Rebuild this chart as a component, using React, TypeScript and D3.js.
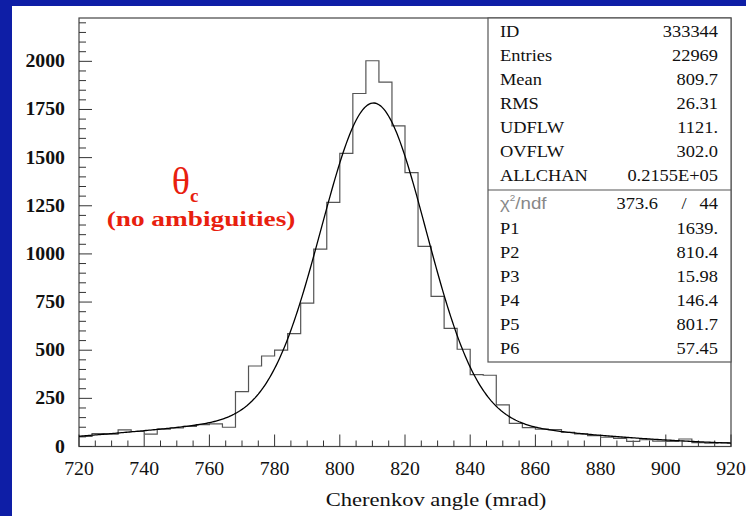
import React from 'react'
import * as d3 from 'd3'

// histogram contents, 50 bins of 4 mrad from 720 to 920
const binLow = 720
const binWidth = 4
const counts = [
  52, 67, 64, 86, 78, 64, 90, 96, 104, 114,
  118, 100, 285, 418, 470, 500, 586, 745, 1025, 1268,
  1522, 1833, 2003, 1892, 1665, 1422, 1039, 780, 613, 505,
  373, 370, 216, 120, 98, 90, 88, 74, 66, 56,
  48, 42, 27, 35, 28, 27, 39, 20, 18, 20
]

// fit parameters (two gaussians) as printed in the stats box
const fitParams = [1639, 810.4, 15.98, 146.4, 801.7, 57.45]

const xTicks = [720, 740, 760, 780, 800, 820, 840, 860, 880, 900, 920]
const yTicks = [0, 250, 500, 750, 1000, 1250, 1500, 1750, 2000]

const statLabels = ['ID', 'Entries', 'Mean', 'RMS', 'UDFLW', 'OVFLW', 'ALLCHAN']
const statValues = ['333344', '22969', '809.7', '26.31', '1121.', '302.0', '0.2155E+05']
const fitLabels = ['P1', 'P2', 'P3', 'P4', 'P5', 'P6']
const fitValues = ['1639.', '810.4', '15.98', '146.4', '801.7', '57.45']
const chi2 = ['373.6', '44']

const W = 746
const H = 516
const serif = '"Liberation Serif", "Times New Roman", serif'
const sans = '"Liberation Sans", Arial, sans-serif'
const blue = '#0e1ea6'
const red = '#e8200e'

// text slightly stretched sideways like the original slide
const SText = ({ x, y, size, sx = 1.2, anchor = 'start', fill = '#111', weight = 'normal', family = serif, children }: any) => (
  <text
    transform={`translate(${x},${y}) scale(${sx},1)`}
    fontSize={size}
    fontFamily={family}
    fontWeight={weight}
    textAnchor={anchor}
    fill={fill}
  >
    {children}
  </text>
)

export default function App() {
  const x = d3.scaleLinear().domain([720, 920]).range([79, 731])
  const y = d3.scaleLinear().domain([0, 2225]).range([446.5, 18])

  const steps: [number, number][] = counts.map((c, i) => [binLow + i * binWidth, c])
  steps.push([920, counts[counts.length - 1]])
  const histPath = d3
    .line<[number, number]>()
    .x(d => x(d[0]))
    .y(d => y(d[1]))
    .curve(d3.curveStepAfter)(steps)

  const [p1, p2, p3, p4, p5, p6] = fitParams
  const fit = (t: number) =>
    p1 * Math.exp(-0.5 * ((t - p2) / p3) ** 2) + p4 * Math.exp(-0.5 * ((t - p5) / p6) ** 2)
  const fitPts = d3.range(720, 920.01, 0.5).map(t => [t, fit(t)] as [number, number])
  const fitPath = d3
    .line<[number, number]>()
    .x(d => x(d[0]))
    .y(d => y(d[1]))
    .curve(d3.curveLinear)(fitPts)

  const xMinor = d3.range(720, 921, 5)
  const yMinor = d3.range(0, 2201, 50)

  const boxL = 488
  const boxR = x(920)
  const boxT = y(2225)
  const rowH = 24
  const divY = boxT + rowH * 7 + 4
  const boxB = divY + rowH * 7 + 4

  return (
    <svg width={W} height={H} style={{ position: 'absolute', left: 0, top: 0 }}>
      <rect width={W} height={H} fill={blue} />
      <rect x={12} y={6} width={W - 12} height={H - 6} fill="#fff" />

      {/* frame */}
      <rect x={x(720)} y={y(2225)} width={x(920) - x(720)} height={y(0) - y(2225)} fill="none" stroke="#444" strokeWidth={1.2} />

      {/* x axis ticks */}
      {xMinor.map(v => (
        <line key={'xm' + v} x1={x(v)} x2={x(v)} y1={y(0)} y2={y(0) - (v % 20 === 0 ? 12 : 6)} stroke="#333" strokeWidth={1} />
      ))}
      {xTicks.map(v => (
        <SText key={'xl' + v} x={x(v)} y={y(0) + 28} size={18} sx={1.1} anchor="middle">
          {v}
        </SText>
      ))}

      {/* y axis ticks */}
      {yMinor.map(v => (
        <line key={'ym' + v} x1={x(720)} x2={x(720) + (v % 250 === 0 ? 13 : 7)} y1={y(v)} y2={y(v)} stroke="#333" strokeWidth={1} />
      ))}
      {yTicks.map(v => (
        <SText key={'yl' + v} x={65} y={y(v) + 6} size={18} sx={1.1} anchor="end" weight="bold">
          {v}
        </SText>
      ))}

      <SText x={436} y={506} size={18.5} sx={1.22} anchor="middle">
        Cherenkov angle (mrad)
      </SText>

      {/* histogram and fit */}
      <path d={histPath || ''} fill="none" stroke="#555" strokeWidth={1.2} />
      <path d={fitPath || ''} fill="none" stroke="#000" strokeWidth={1.3} />

      {/* annotation */}
      <text x={185} y={194} fontSize={38} fontFamily={serif} fill={red} textAnchor="middle">
        θ
        <tspan fontSize={19} fontWeight="bold" dy={8}>c</tspan>
      </text>
      <SText x={201} y={226} size={21} sx={1.3} anchor="middle" fill={red} weight="bold">
        (no ambiguities)
      </SText>

      {/* stats box */}
      <rect x={boxL} y={boxT} width={boxR - boxL} height={boxB - boxT} fill="#fff" stroke="#555" strokeWidth={1.2} />
      <line x1={boxL} x2={boxR} y1={divY} y2={divY} stroke="#555" strokeWidth={1.2} />
      {statLabels.map((l, i) => (
        <g key={l}>
          <SText x={500} y={boxT + 19 + i * rowH} size={16} sx={1.15}>{l}</SText>
          <SText x={718} y={boxT + 19 + i * rowH} size={16} sx={1.15} anchor="end">{statValues[i]}</SText>
        </g>
      ))}
      <SText x={500} y={divY + 19} size={17} sx={1.1} fill="#888" family={sans}>
        χ
        <tspan fontSize={9} dy={-8}>2</tspan>
        <tspan dy={8}>/ndf</tspan>
      </SText>
      <SText x={658} y={divY + 19} size={16} sx={1.15} anchor="end">{chi2[0]}</SText>
      <SText x={684} y={divY + 19} size={16} sx={1.15} anchor="middle">/</SText>
      <SText x={718} y={divY + 19} size={16} sx={1.15} anchor="end">{chi2[1]}</SText>
      {fitLabels.map((l, i) => (
        <g key={l}>
          <SText x={500} y={divY + 44 + i * rowH} size={16} sx={1.15}>{l}</SText>
          <SText x={718} y={divY + 44 + i * rowH} size={16} sx={1.15} anchor="end">{fitValues[i]}</SText>
        </g>
      ))}
    </svg>
  )
}
